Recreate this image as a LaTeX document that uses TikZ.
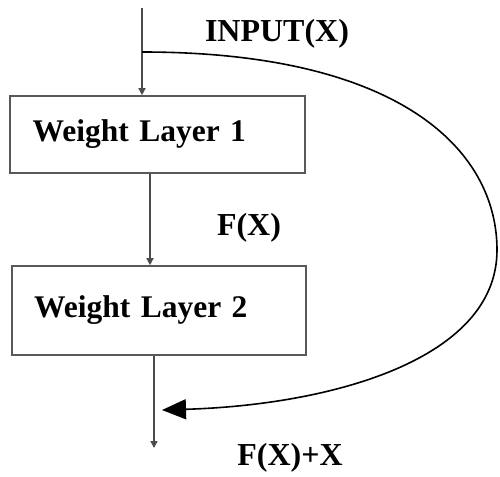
\documentclass[tikz,border=0pt]{standalone}
\usepackage{fontspec}
\setmainfont{Liberation Serif}
\usetikzlibrary{arrows.meta}

\begin{document}
\begin{tikzpicture}[x=1pt,y=-1pt,
  layer/.style={draw=black!65, line width=1.6pt, text width=250pt, inner xsep=22pt, align=left, font=\fontsize{31.5}{38}\selectfont\bfseries},
  lbl/.style={font=\fontsize{32}{38}\selectfont\bfseries},
  flow/.style={draw=black!70, line width=1.4pt, -{Triangle[length=7pt,width=7pt]}}]
\useasboundingbox (0,0) rectangle (500,476);
\coordinate (in) at (142,8);
\coordinate (split) at (142,52);
\node [layer, minimum width=295pt, minimum height=77pt] (l1) at (157.5,134.5) {Weight Layer 1};
\node [layer, minimum width=292pt, minimum height=89pt] (l2) at (159,310.5) {Weight Layer 2};
\coordinate (out) at (154,448);
\coordinate (join) at (162,410);
\node [lbl] (x) at (277,34) {INPUT(X)};
\node [lbl] (fx) at (249,228) {F(X)};
\node [lbl] (fxx) at (290,458) {F(X)+X};
\draw [flow] (in) -- (in |- l1.north);
\draw [flow] (150,0 |- l1.south) -- (150,0 |- l2.north);
\draw [flow] (154,0 |- l2.south) -- (out);
\draw [line width=1.6pt, -{Triangle[length=24pt,width=20pt]}] (split) .. controls (400,52) and (497,150) .. (497,250)
  .. controls (497,360) and (330,405) .. (join);
\end{tikzpicture}
\end{document}
